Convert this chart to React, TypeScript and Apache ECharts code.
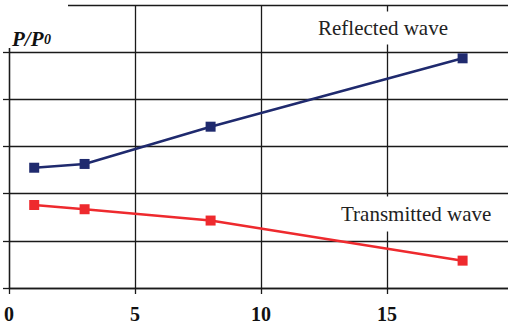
import React, { useEffect, useRef } from "react";
import * as echarts from "echarts";

const xTicks = [0, 5, 10, 15];
const reflectedX = [1, 3, 8, 18];
const reflectedY = [0.51, 0.526, 0.684, 0.974];
const transmittedX = [1, 3, 8, 18];
const transmittedY = [0.352, 0.334, 0.286, 0.116];
const reflectedLabel = "Reflected wave";
const transmittedLabel = "Transmitted wave";

const SERIF = "serif";
const GRID = "#1a1a1a";

export default function App() {
  const ref = useRef<HTMLDivElement>(null);
  useEffect(() => {
    if (!ref.current) return;
    const chart = echarts.init(ref.current, undefined, { renderer: "svg" });
    chart.setOption({
      animation: false,
      backgroundColor: "#ffffff",
      grid: { left: 9, top: 5, width: 504, height: 283, containLabel: false, outerBoundsMode: "none" },
      xAxis: {
        type: "value",
        min: 0,
        max: 20,
        interval: 5,
        axisLine: { show: true, onZero: false, lineStyle: { color: GRID, width: 1.3 } },
        axisTick: { show: true, inside: false, length: 6, lineStyle: { color: GRID, width: 1.3 } },
        splitLine: { show: true, lineStyle: { color: GRID, width: 1.3 } },
        axisLabel: {
          show: true,
          margin: 16,
          fontFamily: SERIF,
          fontWeight: "bold",
          fontSize: 20,
          color: "#111",
          formatter: (v: number) => (xTicks.includes(v) ? String(v) : ""),
        },
      },
      yAxis: {
        type: "value",
        min: 0,
        max: 1.2,
        interval: 0.2,
        axisLine: { show: true, lineStyle: { color: GRID, width: 1.3 } },
        axisTick: { show: true, inside: false, length: 6, lineStyle: { color: GRID, width: 1.3 } },
        splitLine: { show: true, lineStyle: { color: GRID, width: 1.3 } },
        axisLabel: { show: false },
      },
      series: [
        {
          name: reflectedLabel,
          type: "line",
          data: reflectedX.map((x, i) => [x, reflectedY[i]]),
          symbol: "rect",
          symbolSize: 10,
          lineStyle: { color: "#1f2a6e", width: 2.5 },
          itemStyle: { color: "#1f2a6e" },
          z: 3,
        },
        {
          name: transmittedLabel,
          type: "line",
          data: transmittedX.map((x, i) => [x, transmittedY[i]]),
          symbol: "rect",
          symbolSize: 10,
          lineStyle: { color: "#ee2a2e", width: 2.5 },
          itemStyle: { color: "#ee2a2e" },
          z: 3,
        },
      ],
      graphic: [
        { type: "rect", z: 1, shape: { x: 0, y: 0, width: 68, height: 48 }, style: { fill: "#ffffff" } },
        {
          type: "text",
          z: 2,
          x: 12,
          y: 28,
          style: {
            text: "P/P",
            fontFamily: SERIF,
            fontStyle: "italic",
            fontWeight: "bold",
            fontSize: 21,
            fill: "#111",
            verticalAlign: "alphabetic",
          },
        },
        {
          type: "text",
          z: 2,
          x: 44,
          y: 32,
          style: {
            text: "0",
            fontFamily: SERIF,
            fontStyle: "italic",
            fontWeight: "bold",
            fontSize: 14,
            fill: "#111",
            verticalAlign: "alphabetic",
          },
        },
        {
          type: "text",
          z: 2,
          x: 312,
          y: 28,
          style: {
            text: reflectedLabel,
            fontFamily: SERIF,
            fontSize: 21,
            fill: "#222",
            verticalAlign: "middle",
            backgroundColor: "#ffffff",
            padding: [6, 6],
          },
        },
        {
          type: "text",
          z: 2,
          x: 335,
          y: 214,
          style: {
            text: transmittedLabel,
            fontFamily: SERIF,
            fontSize: 21,
            fill: "#222",
            verticalAlign: "middle",
            backgroundColor: "#ffffff",
            padding: [7, 6],
          },
        },
      ],
    });
    return () => chart.dispose();
  }, []);
  return <div ref={ref} style={{ width: 508, height: 329, position: "absolute", left: 0, top: 0 }} />;
}
